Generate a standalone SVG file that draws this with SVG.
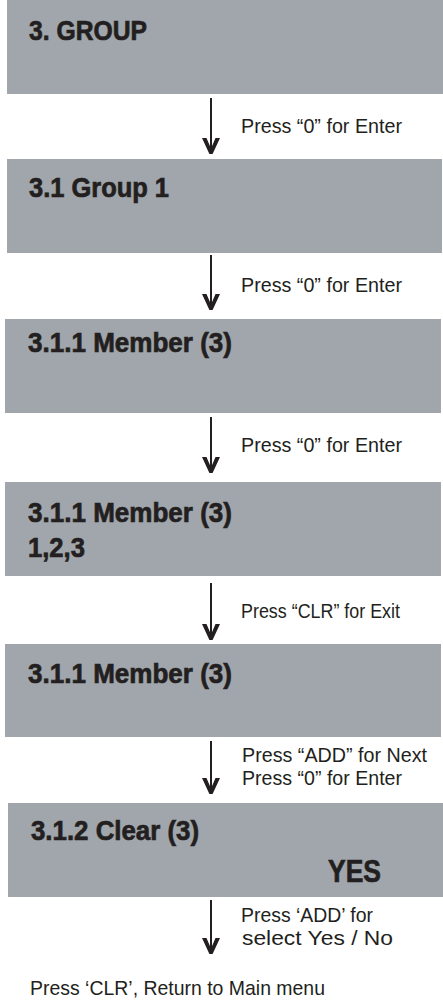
<svg xmlns="http://www.w3.org/2000/svg" width="443" height="1004" viewBox="0 0 443 1004">
<style>
.box{fill:#a0a6ab}
.title{font-family:"Liberation Sans",Arial,sans-serif;font-weight:bold;font-size:28px;fill:#231f20;stroke:#231f20;stroke-width:0.7}
.lbl{font-family:"Liberation Sans",Arial,sans-serif;font-size:21px;fill:#231f20}
.ln{stroke:#231f20;stroke-width:2;fill:none}
.hd{fill:#231f20}
</style>
<defs>
<path id="vhead" d="M-9,-16 L-4.5,-16 L0,-5.5 L4.5,-16 L9,-16 L1.6,0 L-1.6,0 Z"/>
</defs>
<rect width="443" height="1004" fill="#ffffff"/>
<g id="n1"><rect class="box" x="7" y="0" width="436" height="94"/><text class="title" x="29" y="40" textLength="118" lengthAdjust="spacingAndGlyphs">3. GROUP</text></g>
<g id="n2"><rect class="box" x="7" y="159" width="435" height="94"/><text class="title" x="29" y="197" textLength="140" lengthAdjust="spacingAndGlyphs">3.1 Group 1</text></g>
<g id="n3"><rect class="box" x="5" y="319" width="436" height="94"/><text class="title" x="28" y="352" textLength="204" lengthAdjust="spacingAndGlyphs">3.1.1 Member (3)</text></g>
<g id="n4"><rect class="box" x="5" y="482" width="436" height="94"/><text class="title" x="28" y="522" textLength="204" lengthAdjust="spacingAndGlyphs">3.1.1 Member (3)</text><text class="title" x="28" y="557" textLength="57" lengthAdjust="spacingAndGlyphs">1,2,3</text></g>
<g id="n5"><rect class="box" x="5" y="644" width="436" height="93"/><text class="title" x="28" y="683" textLength="204" lengthAdjust="spacingAndGlyphs">3.1.1 Member (3)</text></g>
<g id="n6"><rect class="box" x="8" y="803" width="435" height="94"/><text class="title" x="31" y="840" textLength="168" lengthAdjust="spacingAndGlyphs">3.1.2 Clear (3)</text><text class="title" x="328" y="882" style="font-size:32px" textLength="53" lengthAdjust="spacingAndGlyphs">YES</text></g>
<g id="connectors">
<line class="ln" x1="211" y1="98" x2="211" y2="150"/><use href="#vhead" class="hd" transform="translate(211,154)"/>
<line class="ln" x1="211" y1="255" x2="211" y2="306"/><use href="#vhead" class="hd" transform="translate(211,310)"/>
<line class="ln" x1="211" y1="417" x2="211" y2="469"/><use href="#vhead" class="hd" transform="translate(211,473)"/>
<line class="ln" x1="211" y1="583" x2="211" y2="636"/><use href="#vhead" class="hd" transform="translate(211,640)"/>
<line class="ln" x1="211" y1="741" x2="211" y2="790"/><use href="#vhead" class="hd" transform="translate(211,794)"/>
<line class="ln" x1="211" y1="900" x2="211" y2="950"/><use href="#vhead" class="hd" transform="translate(211,954)"/>
</g>
<g id="labels">
<text class="lbl" x="241" y="133" textLength="161" lengthAdjust="spacingAndGlyphs">Press “0” for Enter</text>
<text class="lbl" x="241" y="292" textLength="161" lengthAdjust="spacingAndGlyphs">Press “0” for Enter</text>
<text class="lbl" x="241" y="452" textLength="161" lengthAdjust="spacingAndGlyphs">Press “0” for Enter</text>
<text class="lbl" x="241" y="618" textLength="159" lengthAdjust="spacingAndGlyphs">Press “CLR” for Exit</text>
<text class="lbl" x="242" y="762" textLength="185" lengthAdjust="spacingAndGlyphs">Press “ADD” for Next</text>
<text class="lbl" x="242" y="785" textLength="160" lengthAdjust="spacingAndGlyphs">Press “0” for Enter</text>
<text class="lbl" x="241" y="922" textLength="132" lengthAdjust="spacingAndGlyphs">Press ‘ADD’ for</text>
<text class="lbl" x="242" y="945" textLength="151" lengthAdjust="spacingAndGlyphs">select Yes / No</text>
<text class="lbl" x="30" y="995" textLength="295" lengthAdjust="spacingAndGlyphs">Press ‘CLR’, Return to Main menu</text>
</g>
</svg>
